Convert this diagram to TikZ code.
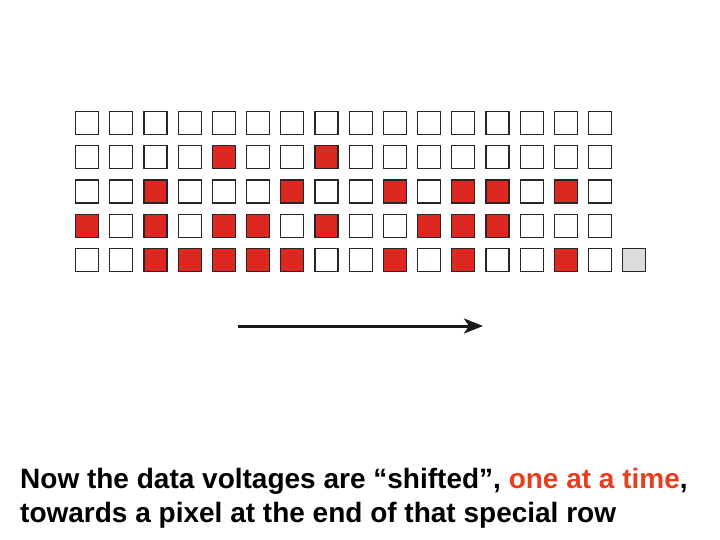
\documentclass[tikz,border=0pt]{standalone}
\usepackage{fontspec}
\setmainfont{Liberation Sans}
\usetikzlibrary{arrows.meta}
\definecolor{pxred}{RGB}{220,40,32}
\definecolor{txtred}{RGB}{232,62,30}
\definecolor{pxgray}{RGB}{220,220,220}
\begin{document}
\begin{tikzpicture}[x=1pt,y=-1pt,
  pix/.style={draw=black!85,line width=1.2pt,minimum size=23pt,inner sep=0pt,anchor=north west},
  c0/.style={fill=white},
  c1/.style={fill=pxred},
  arr/.style={line width=3pt,draw=black!90,-{Stealth[length=19pt,width=15pt,inset=5pt]}},
  caption/.style={anchor=base west,font=\bfseries\fontsize{28}{35}\selectfont,inner sep=0pt}]
\useasboundingbox (0,0) rectangle (720,540);
\fill[white] (0,0) rectangle (720,540);
\foreach \r/\pat in {
  0/{0,0,0,0,0,0,0,0,0,0,0,0,0,0,0,0},
  1/{0,0,0,0,1,0,0,1,0,0,0,0,0,0,0,0},
  2/{0,0,1,0,0,0,1,0,0,1,0,1,1,0,1,0},
  3/{1,0,1,0,1,1,0,1,0,0,1,1,1,0,0,0},
  4/{0,0,1,1,1,1,1,0,0,1,0,1,0,0,1,0}}{
  \foreach \v [count=\c from 0] in \pat {
    \node[pix,c\v] (p\r-\c) at ({75+34.2*\c},{111+34.2*\r}) {};
  }
}
\node[pix,fill=pxgray] (g) at ({75+34.2*16},{111+34.2*4}) {};
\coordinate (as) at (238,326);
\coordinate (ae) at (483,326);
\draw[arr] (as) -- (ae);
\node[caption] (t1) at (20,488) {Now the data voltages are “shifted”, \textcolor{txtred}{one at a time},};
\node[caption] (t2) at (20,522) {towards a pixel at the end of that special row};
\end{tikzpicture}
\end{document}
